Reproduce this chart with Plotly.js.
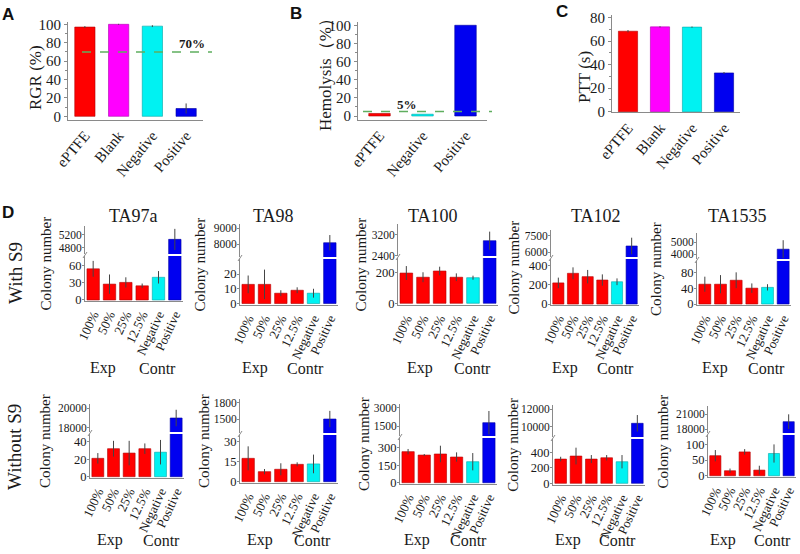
<!DOCTYPE html>
<html><head><meta charset="utf-8">
<script src="https://cdn.plot.ly/plotly-3.0.1.min.js"></script>
<style>html,body{margin:0;padding:0;background:#fff}#chart{width:800px;height:554px}</style>
</head><body><div id="chart"></div>
<script>
// ---------- DATA ----------
const catsA = ['ePTFE', 'Blank', 'Negative', 'Positive'];
const rgrValues = [97, 100, 98, 8.5];
const rgrErrors = [1, 0.5, 1, 5.5];
const rgrThreshold = 70;

const catsB = ['ePTFE', 'Negative', 'Positive'];
const hemolysisValues = [2.8, 2.0, 100];
const hemolysisErrors = [0, 0, 0];
const hemolysisThreshold = 5;

const catsC = ['ePTFE', 'Blank', 'Negative', 'Positive'];
const pttValues = [68.5, 72.2, 72, 33];
const pttErrors = [1, 0.5, 0.5, 0.8];

const catsD = ['100%', '50%', '25%', '12.5%', 'Negative', 'Positive'];
const strains = ['TA97a', 'TA98', 'TA100', 'TA102', 'TA1535'];

const withS9Values = [
  [55, 28, 31, 25, 40, 5060],
  [13, 13, 7, 9, 7, 8080],
  [195, 168, 208, 168, 165, 2980],
  [220, 320, 285, 250, 232, 6570],
  [50, 50, 60, 40, 42, 4400]
];
const withS9Errors = [
  [14, 17, 9, 4, 11, 330],
  [6, 10, 2, 2, 3, 480],
  [45, 32, 28, 25, 13, 350],
  [55, 62, 70, 59, 35, 750],
  [19, 23, 20, 12, 8, 750]
];
const withoutS9Values = [
  [21, 32, 27, 32, 28, 19000],
  [17.5, 7.5, 9.3, 13, 13.3, 1500],
  [266, 237, 246, 220, 180, 1770],
  [313, 352, 313, 330, 279, 10390],
  [64, 16, 76, 18, 71, 19500]
];
const withoutS9Errors = [
  [6, 9, 14, 6, 14, 850],
  [9, 2, 4.5, 1.5, 7, 150],
  [23, 9, 71, 40, 74, 960],
  [30, 108, 52, 35, 86, 950],
  [18, 7, 9, 14, 29, 1500]
];

const withS9LowTicks = [[0, 30, 60], [0, 10, 20], [0, 200], [0, 200, 400], [0, 40, 80]];
const withS9HighTicks = [[4800, 5200], [8000, 9000], [2400, 3200], [6000, 7500], [4000, 5000]];
const withoutS9LowTicks = [[0, 20, 40], [0, 15, 30], [0, 150, 300], [0, 200, 400], [0, 50, 100]];
const withoutS9HighTicks = [[18000, 20000], [1500, 1800], [1500, 3000], [10000, 12000], [18000, 21000]];

// ---------- STYLE / GEOMETRY ----------
const W = 800, H = 554;
const px = x => x / W, py = y => 1 - y / H;
const serif = '"Liberation Serif","Times New Roman",serif';
const sans = '"Liberation Sans",Arial,sans-serif';
const txt = '#1a1a1a';
const gray = '#8a8a8a';
const errColor = '#444';

function fillColor(c) {
  if (c === 'Blank') return '#ff00ff';
  if (c === 'Negative') return '#00f2f2';
  if (c === 'Positive') return '#0000f0';
  return '#ff0000';
}
function lineColor(c) {
  if (c === 'Blank') return '#b000b0';
  if (c === 'Negative') return '#00a8a8';
  if (c === 'Positive') return '#0000a0';
  return '#b00000';
}

const rowGeo = [
  [
    {xl: 85, xr: 183, lb: 301, lt: 256, ub: 254, ut: 226, lr: [-1.8, 77.6], ur: [4600, 5480], tx: 45},
    {xl: 240, xr: 338, lb: 305, lt: 259, ub: 257, ut: 224, lr: [-1, 30.2], ur: [7187, 9250], tx: 199},
    {xl: 398, xr: 498, lb: 305, lt: 258, ub: 256, ut: 224, lr: [-11, 292], ur: [2388, 3625], tx: 360},
    {xl: 551, xr: 639, lb: 305, lt: 259, ub: 257, ut: 230, lr: [-10, 469], ur: [5575, 8015], tx: 513},
    {xl: 697, xr: 791, lb: 305, lt: 261, ub: 259, ut: 233, lr: [-2.5, 108.6], ur: [3583, 5750], tx: 656}
  ],
  [
    {xl: 90, xr: 184, lb: 478, lt: 434, ub: 432, ut: 404, lr: [-1.5, 48.8], ur: [17557, 20443], tx: 45},
    {xl: 240, xr: 338, lb: 483, lt: 435, ub: 433, ut: 399, lr: [-1, 35], ur: [1243, 1868], tx: 204},
    {xl: 400, xr: 497, lb: 484, lt: 438, ub: 436, ut: 404, lr: [-11, 383], ur: [680, 3303], tx: 364},
    {xl: 553, xr: 645, lb: 484.5, lt: 439, ub: 437, ut: 405, lr: [-15, 572], ur: [8816, 12494], tx: 513},
    {xl: 708, xr: 796, lb: 477, lt: 435, ub: 433, ut: 406, lr: [-4, 130], ur: [17184, 22700], tx: 662}
  ]
];
const expX = [[103, 255, 420, 565, 715], [110, 260, 417, 568, 723]];
const contrX = [[157, 305, 472, 615, 766], [161, 312, 468, 617, 772]];
const labelY = [368, 540];
const strainTitleX = [133, 273, 433, 596, 737];

const traces = [];
const shapes = [];
const annotations = [];
const layout = {
  width: W, height: H,
  margin: {l: 0, r: 0, t: 0, b: 0},
  paper_bgcolor: '#fff', plot_bgcolor: 'rgba(0,0,0,0)',
  showlegend: false,
  font: {family: serif, color: txt}
};

function ann(x, y, text, size, extra) {
  annotations.push(Object.assign({xref: 'paper', yref: 'paper', x: px(x), y: py(y), text: text, showarrow: false,
    xanchor: 'center', yanchor: 'middle', font: {family: serif, size: size, color: txt}}, extra || {}));
}
function barTrace(cats, vals, errs, xa, ya, width) {
  return {
    type: 'bar', x: cats, y: vals, xaxis: xa, yaxis: ya, width: width,
    marker: {color: cats.map(fillColor), line: {color: cats.map(lineColor), width: 0.6}},
    error_y: {type: 'data', array: errs, symmetric: true, visible: true, color: errColor, thickness: 1, width: 0},
    hoverinfo: 'skip'
  };
}
function yStyle(extra) {
  return Object.assign({
    showline: true, linecolor: gray, linewidth: 1, ticks: 'outside', ticklen: 3, tickcolor: gray,
    showgrid: false, zeroline: false, tickfont: {family: serif, size: 15, color: txt}, fixedrange: true,
    tickformat: 'd'
  }, extra);
}
function xStyle(cats, extra) {
  return Object.assign({
    type: 'category', tickmode: 'array', tickvals: cats, ticktext: cats,
    showline: true, linecolor: gray, linewidth: 1, ticks: '', showgrid: false, zeroline: false,
    tickfont: {family: serif, size: 15, color: txt}, fixedrange: true
  }, extra);
}

// ---------- Panel A ----------
traces.push(barTrace(catsA, rgrValues, rgrErrors, 'x', 'y', 0.6));
layout.xaxis = xStyle(catsA, {domain: [px(68), px(203)], anchor: 'y', tickangle: -50});
layout.yaxis = yStyle({domain: [py(120), py(22)], anchor: 'x', range: [-4, 102.5], tickvals: [0, 20, 40, 60, 80, 100],
  minor: {ticks: 'outside', ticklen: 2, dtick: 10, tickcolor: gray}});
shapes.push({type: 'line', xref: 'paper', yref: 'y', x0: px(82), x1: px(212), y0: rgrThreshold, y1: rgrThreshold,
  line: {color: '#5fae5f', width: 1.5, dash: 'dash'}});
annotations.push({xref: 'paper', yref: 'y', x: px(192), y: rgrThreshold, yshift: 8, text: '<b>70%</b>', showarrow: false,
  xanchor: 'center', yanchor: 'middle', font: {family: serif, size: 13, color: txt}});
ann(35, 78, 'RGR (%)', 17, {textangle: -90});

// ---------- Panel B ----------
traces.push(barTrace(catsB, hemolysisValues, hemolysisErrors, 'x2', 'y2', 0.5));
layout.xaxis2 = xStyle(catsB, {domain: [px(358), px(487)], anchor: 'y2', tickangle: -50});
layout.yaxis2 = yStyle({domain: [py(120), py(22)], anchor: 'x2', range: [-4.4, 103.6], tickvals: [0, 20, 40, 60, 80, 100],
  minor: {ticks: 'outside', ticklen: 2, dtick: 10, tickcolor: gray}});
shapes.push({type: 'line', xref: 'paper', yref: 'y2', x0: px(363), x1: px(492), y0: hemolysisThreshold, y1: hemolysisThreshold,
  line: {color: '#5fae5f', width: 1.5, dash: 'dash'}});
annotations.push({xref: 'paper', yref: 'y2', x: px(407), y: hemolysisThreshold, yshift: 7, text: '<b>5%</b>', showarrow: false,
  xanchor: 'center', yanchor: 'middle', font: {family: serif, size: 13, color: txt}});
ann(325, 71, 'Hemolysis（%）', 17, {textangle: -90});

// ---------- Panel C ----------
traces.push(barTrace(catsC, pttValues, pttErrors, 'x3', 'y3', 0.6));
layout.xaxis3 = xStyle(catsC, {domain: [px(612), px(740)], anchor: 'y3', tickangle: -50});
layout.yaxis3 = yStyle({domain: [py(112.3), py(15)], anchor: 'x3', range: [-0.5, 82.3], tickvals: [0, 20, 40, 60, 80],
  minor: {ticks: 'outside', ticklen: 2, dtick: 10, tickcolor: gray}});
ann(585, 77, 'PTT (s)', 17, {textangle: -90});

// panel letters
[['A', 8, 14], ['B', 296, 13], ['C', 562, 12], ['D', 8, 212]].forEach(([t, x, y]) => {
  ann(x, y, '<b>' + t + '</b>', 17, {font: {family: sans, size: 17, color: '#111'}});
});

// ---------- Panel D ----------
const rowValues = [withS9Values, withoutS9Values];
const rowErrors = [withS9Errors, withoutS9Errors];
const rowLow = [withS9LowTicks, withoutS9LowTicks];
const rowHigh = [withS9HighTicks, withoutS9HighTicks];
let xi = 4, yi = 4;
for (let r = 0; r < 2; r++) {
  for (let i = 0; i < strains.length; i++) {
    const g = rowGeo[r][i];
    const xn = 'x' + xi, yl = 'y' + yi, yu = 'y' + (yi + 1);
    layout['xaxis' + xi] = xStyle(catsD, {domain: [px(g.xl), px(g.xr)], anchor: yl, range: [-0.5, 5.5], tickangle: -65,
      tickfont: {family: serif, size: 13, color: txt}});
    layout['yaxis' + yi] = yStyle({domain: [py(g.lb), py(g.lt)], anchor: xn, range: g.lr, tickmode: 'array',
      tickvals: rowLow[r][i], ticklen: 2, ticklabelstandoff: -2, tickfont: {family: serif, size: 12.5, color: txt}});
    layout['yaxis' + (yi + 1)] = yStyle({domain: [py(g.ub), py(g.ut)], anchor: xn, range: g.ur, tickmode: 'array',
      tickvals: rowHigh[r][i], ticklen: 2, ticklabelstandoff: -2, tickfont: {family: serif, size: 11.5, color: txt}});
    traces.push(barTrace(catsD, rowValues[r][i], rowErrors[r][i], xn, yl, 0.76));
    traces.push(barTrace(catsD, rowValues[r][i], rowErrors[r][i], xn, yu, 0.76));
    const gy = (g.lt + g.ub) / 2;
    shapes.push({type: 'line', xref: 'paper', yref: 'paper', x0: px(g.xl - 2), x1: px(g.xl + 2), y0: py(gy + 3), y1: py(gy - 3),
      line: {color: gray, width: 1}});
    ann(g.tx, (g.ut + g.lb) / 2, 'Colony number', 15, {textangle: -90});
    ann(expX[r][i], labelY[r], 'Exp', 16);
    ann(contrX[r][i], labelY[r], 'Contr', 16);
    if (r === 0) ann(strainTitleX[i], 216, strains[i], 18);
    xi += 1; yi += 2;
  }
}
ann(15, 273, 'With S9', 19, {textangle: -90});
ann(14, 447, 'Without S9', 19, {textangle: -90});

layout.shapes = shapes;
layout.annotations = annotations;
Plotly.newPlot('chart', traces, layout, {staticPlot: true, displayModeBar: false});
</script></body></html>
